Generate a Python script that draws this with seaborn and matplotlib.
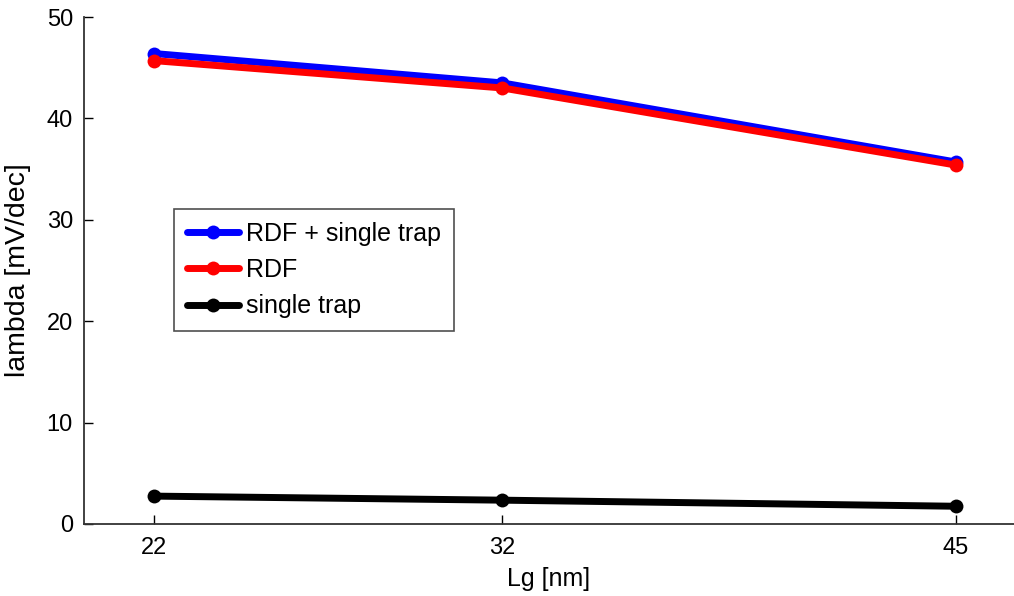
import matplotlib
matplotlib.use("Agg")
import matplotlib.pyplot as plt
import seaborn as sns
import pandas as pd

lg = [22, 32, 45]
rdf_trap = [46.4, 43.5, 35.7]
rdf = [45.7, 43.0, 35.4]
single_trap = [2.75, 2.35, 1.75]
series_names = ["RDF + single trap", "RDF", "single trap"]
colors = ["#0000ff", "#ff0000", "#000000"]

sns.set_style("white")
plt.rcParams["font.family"] = ["Liberation Sans", "DejaVu Sans"]
plt.rcParams["text.color"] = "black"
plt.rcParams["axes.labelcolor"] = "black"
plt.rcParams["xtick.color"] = "black"
plt.rcParams["ytick.color"] = "black"

df = pd.DataFrame({
    "Lg": lg * 3,
    "val": rdf_trap + rdf + single_trap,
    "series": [series_names[0]] * 3 + [series_names[1]] * 3 + [series_names[2]] * 3,
})

fig = plt.figure(figsize=(10.14, 5.96), dpi=100)
ax = fig.add_axes([84 / 1014, 1 - 524 / 596, (1014 - 84) / 1014, (524 - 17) / 596])

sns.lineplot(data=df, x="Lg", y="val", hue="series", hue_order=series_names,
             palette=colors, marker="o", markersize=10, linewidth=5,
             markeredgewidth=0, ax=ax, sort=False)

ax.set_xlim(20, 20 + 930 / 34.87)
ax.set_ylim(0, 50)
ax.set_xticks(lg)
ax.set_xticklabels([str(v) for v in lg])
ax.set_yticks([0, 10, 20, 30, 40, 50])
ax.tick_params(axis="both", labelsize=17, length=6.5, width=1, colors="black",
               direction="in", bottom=True, left=True)
ax.tick_params(axis="x", pad=9)
ax.tick_params(axis="y", pad=8)
for s in ["top", "right"]:
    ax.spines[s].set_visible(False)
for s in ["left", "bottom"]:
    ax.spines[s].set_color("#333333")
    ax.spines[s].set_linewidth(1.3)
ax.set_xlabel("Lg [nm]", fontsize=18, labelpad=6)
ax.set_ylabel("lambda [mV/dec]", fontsize=20.5, labelpad=11)

leg = ax.legend(loc="upper left", bbox_to_anchor=((174 - 84) / 930, (524 - 209) / 507),
                fontsize=18, frameon=True, fancybox=False, borderpad=0.5,
                handlelength=2.1, handletextpad=0.28, labelspacing=0.5,
                borderaxespad=0)
leg.get_frame().set_edgecolor("#222222")
leg.get_frame().set_linewidth(1.2)

fig.savefig("out.png", dpi=100)
